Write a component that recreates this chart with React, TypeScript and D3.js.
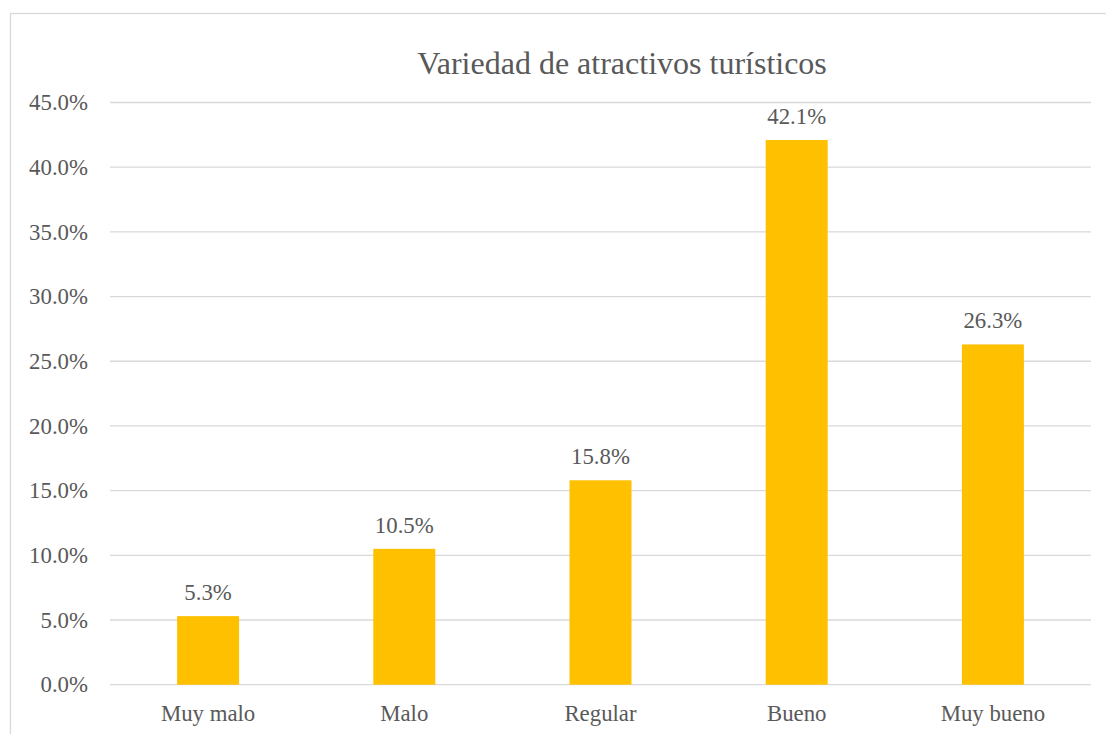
import React from "react";
import * as d3 from "d3";

const categories = ["Muy malo", "Malo", "Regular", "Bueno", "Muy bueno"];
const values = [5.3, 10.5, 15.8, 42.1, 26.3];
const yTicks = [0, 5, 10, 15, 20, 25, 30, 35, 40, 45];
const title = "Variedad de atractivos turísticos";

const width = 1106;
const height = 734;
const margin = { left: 110, right: 15, top: 102.5, bottom: 49.3 };
const font = "Liberation Serif, DejaVu Serif, serif";
const textColor = "#595959";

const App = () => {
  const x = d3
    .scaleBand()
    .domain(categories)
    .range([margin.left, width - margin.right])
    .padding(0);

  const y = d3
    .scaleLinear()
    .domain([0, 45])
    .range([height - margin.bottom, margin.top]);

  const barW = x.bandwidth() * 0.316;
  const txt = { fontFamily: font, fontSize: 22.8, fill: textColor };

  return (
    <svg
      width={width}
      height={height}
      style={{ position: "absolute", left: 0, top: 0, background: "#fff" }}
    >
      {/* chart border */}
      <rect x={10.5} y={13.5} width={1300} height={800} fill="none" stroke="#d9d9d9" strokeWidth={1.3} />

      <text x={622} y={74} textAnchor="middle" style={{ ...txt, fontSize: 32 }}>
        {title}
      </text>

      {/* gridlines and y labels */}
      {yTicks.map((t) => (
        <g key={t}>
          <line
            x1={margin.left}
            x2={width - margin.right}
            y1={y(t)}
            y2={y(t)}
            stroke="#d9d9d9"
            strokeWidth={1.3}
          />
          <text x={88} y={y(t)} dy="0.34em" textAnchor="end" style={txt}>
            {d3.format(".1f")(t) + "%"}
          </text>
        </g>
      ))}

      {/* bars */}
      {categories.map((c, i) => {
        const cx = (x(c) as number) + x.bandwidth() / 2;
        return (
          <g key={c}>
            <rect
              x={cx - barW / 2}
              y={y(values[i])}
              width={barW}
              height={y(0) - y(values[i])}
              fill="#ffc000"
            />
            <text x={cx} y={y(values[i]) - 16} textAnchor="middle" style={txt}>
              {d3.format(".1f")(values[i]) + "%"}
            </text>
            <text x={cx} y={720.5} textAnchor="middle" style={txt}>
              {c}
            </text>
          </g>
        );
      })}
    </svg>
  );
};

export default App;
